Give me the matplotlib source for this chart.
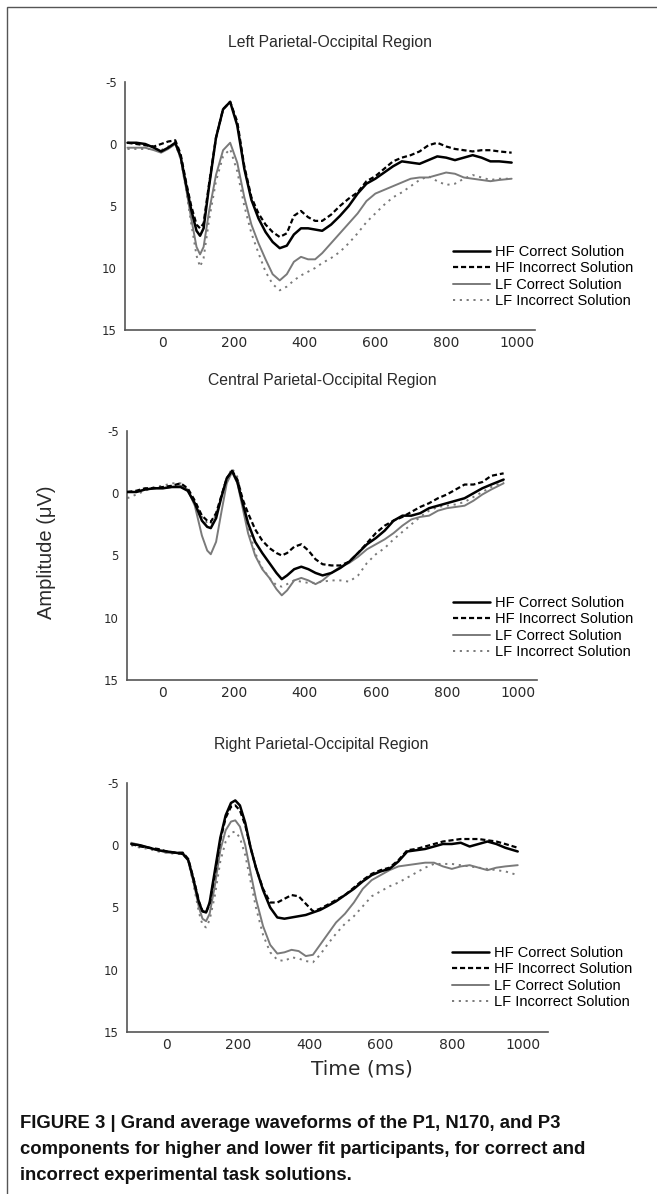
import matplotlib
matplotlib.use("Agg")
import matplotlib.pyplot as plt
from matplotlib.patches import Rectangle

# ---------------- data (amplitude in microvolts, negative up) ----------------
series_labels = ["HF Correct Solution", "HF Incorrect Solution",
                 "LF Correct Solution", "LF Incorrect Solution"]
panel_titles = ["Left Parietal-Occipital Region",
                "Central Parietal-Occipital Region",
                "Right Parietal-Occipital Region"]
x_ticks = [0, 200, 400, 600, 800, 1000]
y_ticks = [-5, 0, 5, 10, 15]

# Left panel
t_left = [-100, -75, -50, -25, -5, 15, 35, 50, 65, 80, 95, 105, 115, 130, 150, 170,
          190, 210, 230, 250, 270, 290, 310, 330, 350, 370, 390, 410, 430, 450, 475,
          500, 525, 550, 575, 600, 625, 650, 675, 700, 725, 750, 775, 800, 825, 850,
          875, 900, 925, 950, 985]
left_hf_correct = [-0.1, -0.1, 0.0, 0.3, 0.6, 0.3, -0.1, 1.0, 3.2, 5.3, 7.0, 7.4, 6.8, 3.5, -0.5, -2.8,
                   -3.4, -1.5, 2.0, 4.5, 6.0, 7.1, 7.9, 8.4, 8.2, 7.3, 6.8, 6.8, 6.9, 7.0, 6.5,
                   5.8, 5.0, 4.0, 3.2, 2.8, 2.3, 1.8, 1.4, 1.5, 1.6, 1.3, 1.0, 1.1, 1.3, 1.1,
                   0.9, 1.1, 1.4, 1.4, 1.5]
left_hf_incorrect = [-0.1, 0.0, 0.1, 0.2, 0.0, -0.2, -0.3, 0.8, 3.0, 5.0, 6.5, 6.8, 6.4, 3.3, -0.5, -2.8,
                     -3.4, -1.8, 1.8, 4.3, 5.6, 6.5, 7.1, 7.5, 7.2, 5.8, 5.4, 5.9, 6.2, 6.2, 5.7,
                     5.0, 4.4, 3.9, 3.0, 2.6, 2.0, 1.4, 1.1, 0.9, 0.6, 0.1, -0.1, 0.2, 0.4, 0.5,
                     0.6, 0.5, 0.5, 0.6, 0.7]
left_lf_correct = [0.3, 0.3, 0.3, 0.5, 0.7, 0.4, 0.0, 1.1, 3.5, 6.0, 8.3, 8.9, 8.3, 5.5, 2.5, 0.5,
                   -0.1, 1.5, 4.3, 6.5, 8.0, 9.3, 10.5, 11.0, 10.5, 9.5, 9.1, 9.3, 9.3, 8.8, 8.0,
                   7.2, 6.4, 5.6, 4.6, 4.0, 3.7, 3.4, 3.1, 2.8, 2.7, 2.7, 2.5, 2.3, 2.4, 2.7,
                   2.8, 2.9, 3.0, 2.9, 2.8]
left_lf_incorrect = [0.4, 0.4, 0.4, 0.4, 0.5, 0.2, 0.0, 1.2, 3.6, 6.4, 9.0, 9.9, 9.2, 6.2, 3.0, 1.0,
                     0.4, 2.2, 5.0, 7.2, 8.8, 10.3, 11.3, 11.8, 11.5, 11.0, 10.6, 10.3, 10.0, 9.6, 9.2,
                     8.7, 8.0, 7.2, 6.3, 5.6, 4.9, 4.3, 3.9, 3.4, 2.9, 2.6, 3.0, 3.3, 3.2, 2.8,
                     2.5, 2.7, 2.9, 2.8, 2.8]

# Central panel
t_central = [-100, -75, -50, -25, 0, 25, 50, 70, 90, 110, 125, 135, 150, 165, 180, 195,
             210, 225, 240, 260, 280, 300, 320, 335, 350, 370, 390, 410, 430, 450, 475,
             500, 525, 550, 575, 600, 625, 650, 675, 700, 725, 750, 775, 800, 825, 850,
             875, 900, 925, 960]
central_hf_correct = [-0.1, -0.1, -0.3, -0.4, -0.4, -0.5, -0.5, -0.2, 0.8, 2.2, 2.7, 2.8, 2.0, 0.3, -1.2, -1.8,
                      -0.9, 0.8, 2.4, 3.9, 4.8, 5.6, 6.4, 6.9, 6.6, 6.1, 5.9, 6.1, 6.4, 6.6, 6.4,
                      6.0, 5.5, 4.8, 4.1, 3.6, 3.0, 2.2, 1.8, 1.8, 1.6, 1.2, 1.0, 0.8, 0.6, 0.4,
                      0.0, -0.4, -0.7, -1.1]
central_hf_incorrect = [-0.1, -0.2, -0.4, -0.4, -0.5, -0.6, -0.8, -0.4, 0.6, 1.8, 2.2, 2.3, 1.6, 0.2, -1.2, -1.8,
                        -1.1, 0.5, 1.6, 2.9, 3.8, 4.4, 4.8, 5.0, 4.8, 4.3, 4.1, 4.6, 5.3, 5.7, 5.8,
                        5.8, 5.5, 4.8, 4.0, 3.2, 2.6, 2.2, 1.9, 1.5, 1.1, 0.8, 0.4, 0.1, -0.3, -0.7,
                        -0.7, -0.9, -1.4, -1.6]
central_lf_correct = [-0.1, -0.1, -0.3, -0.4, -0.4, -0.5, -0.6, -0.3, 1.0, 3.4, 4.6, 4.9, 3.9, 1.5, -0.8, -1.7,
                      -0.8, 1.2, 3.2, 5.0, 6.1, 6.8, 7.7, 8.2, 7.8, 7.0, 6.8, 7.0, 7.3, 7.0, 6.4,
                      5.9, 5.6, 5.1, 4.5, 4.1, 3.7, 3.2, 2.6, 2.1, 1.9, 1.8, 1.4, 1.2, 1.1, 1.0,
                      0.6, 0.1, -0.3, -0.8]
central_lf_incorrect = [0.4, 0.1, -0.2, -0.5, -0.6, -0.8, -0.8, -0.3, 0.6, 1.9, 2.4, 2.5, 1.7, 0.2, -1.2, -2.0,
                        -1.3, 0.5, 2.6, 4.8, 6.0, 6.8, 7.4, 7.5, 7.3, 7.0, 7.1, 7.2, 7.2, 7.1, 7.0,
                        7.0, 7.1, 6.6, 5.6, 4.9, 4.4, 3.7, 3.1, 2.5, 1.9, 1.4, 1.1, 1.0, 0.9, 0.7,
                        0.3, -0.1, -0.5, -0.9]

# Right panel
t_right = [-100, -75, -50, -25, 0, 25, 45, 60, 75, 90, 100, 110, 120, 135, 150, 165,
           180, 192, 205, 220, 235, 250, 270, 290, 310, 330, 350, 370, 390, 410, 430,
           450, 475, 500, 525, 550, 575, 600, 625, 650, 675, 700, 725, 750, 775, 800,
           825, 850, 875, 900, 925, 950, 985]
right_hf_correct = [-0.1, 0.0, 0.2, 0.4, 0.5, 0.6, 0.7, 1.2, 2.8, 4.6, 5.3, 5.4, 4.6, 2.0, -0.6, -2.4,
                    -3.4, -3.6, -3.2, -1.8, 0.2, 1.8, 3.6, 5.0, 5.8, 5.9, 5.8, 5.7, 5.6, 5.4, 5.2,
                    4.9, 4.5, 4.0, 3.5, 2.9, 2.4, 2.1, 1.9, 1.3, 0.5, 0.4, 0.3, 0.1, -0.1, -0.1,
                    -0.2, 0.1, -0.1, -0.3, -0.1, 0.2, 0.5]
right_hf_incorrect = [-0.1, 0.1, 0.2, 0.3, 0.5, 0.6, 0.6, 1.1, 2.7, 4.5, 5.3, 5.4, 4.7, 2.3, -0.4, -2.2,
                      -3.1, -3.2, -2.8, -1.6, 0.2, 1.8, 3.5, 4.6, 4.6, 4.3, 4.0, 4.1, 4.7, 5.3, 5.1,
                      4.8, 4.4, 4.0, 3.4, 2.8, 2.3, 2.0, 1.8, 1.2, 0.4, 0.3, 0.1, -0.1, -0.3, -0.4,
                      -0.5, -0.5, -0.5, -0.4, -0.3, -0.1, 0.2]
right_lf_correct = [-0.2, 0.0, 0.2, 0.4, 0.6, 0.6, 0.6, 1.2, 3.0, 5.0, 5.9, 6.1, 5.5, 3.2, 0.4, -1.2,
                    -1.9, -2.0, -1.5, 0.0, 2.2, 4.3, 6.5, 8.0, 8.7, 8.6, 8.4, 8.5, 8.9, 8.8, 8.0,
                    7.2, 6.2, 5.5, 4.6, 3.5, 2.8, 2.4, 2.0, 1.7, 1.6, 1.5, 1.4, 1.4, 1.7, 1.9,
                    1.7, 1.6, 1.8, 2.0, 1.8, 1.7, 1.6]
right_lf_incorrect = [0.0, 0.2, 0.3, 0.5, 0.6, 0.7, 0.7, 1.3, 3.2, 5.4, 6.4, 6.6, 6.0, 4.0, 1.3, -0.3,
                      -1.0, -1.1, -0.6, 0.8, 2.9, 5.0, 7.2, 8.6, 9.2, 9.3, 9.0, 9.1, 9.3, 9.4, 8.8,
                      8.0, 7.1, 6.3, 5.7, 4.9, 4.1, 3.7, 3.3, 3.0, 2.6, 2.2, 1.8, 1.5, 1.5, 1.5,
                      1.6, 1.7, 1.8, 1.9, 2.0, 2.1, 2.4]

# ---------------- layout ----------------
W, H = 657, 1194
fig = plt.figure(figsize=(W / 100, H / 100), dpi=100)
fig.patch.set_facecolor("white")


def fx(px):
    return px / W


def fy(py):
    return 1 - py / H


styles = [
    dict(color="black", lw=1.8, ls="-", zorder=5),
    dict(color="black", lw=1.6, ls=(0, (2.3, 1.3)), zorder=4),
    dict(color="#7a7a7a", lw=1.4, ls="-", zorder=3),
    dict(color="#7a7a7a", lw=1.4, ls=(0, (1.1, 2.4)), zorder=2),
]

panels = [
    dict(t=t_left, ys=[left_hf_correct, left_hf_incorrect, left_lf_correct, left_lf_incorrect],
         box=(125, 535, 82, 330), xlim=(-107, 1051), title_xy=(330, 42), leg_xy=(453, 245)),
    dict(t=t_central, ys=[central_hf_correct, central_hf_incorrect, central_lf_correct, central_lf_incorrect],
         box=(127, 537, 431, 680), xlim=(-101, 1054), title_xy=(322, 380), leg_xy=(453, 596)),
    dict(t=t_right, ys=[right_hf_correct, right_hf_incorrect, right_lf_correct, right_lf_incorrect],
         box=(127, 548, 783, 1032), xlim=(-112, 1070), title_xy=(321, 745), leg_xy=(452, 946)),
]

text_color = "#2a2a2a"
spine_color = "#555555"

for i, p in enumerate(panels):
    l, r, t, b = p["box"]
    ax = fig.add_axes([fx(l), fy(b), (r - l) / W, (b - t) / H])
    handles = []
    for y, st in zip(p["ys"], styles):
        ln, = ax.plot(p["t"], y, color=st["color"], lw=st["lw"], ls=st["ls"],
                      zorder=st["zorder"], solid_capstyle="round")
        handles.append(ln)
    ax.set_xlim(*p["xlim"])
    ax.set_ylim(15, -5)
    ax.set_xticks(x_ticks)
    ax.set_yticks(y_ticks)
    ax.set_xticklabels([str(v) for v in x_ticks], fontsize=10, family="DejaVu Sans", color=text_color)
    ax.set_yticklabels([str(v) for v in y_ticks], fontsize=8.5, family="DejaVu Sans", color=text_color)
    ax.tick_params(axis="both", length=0)
    ax.tick_params(axis="x", pad=4)
    ax.tick_params(axis="y", pad=6)
    for s in ["top", "right"]:
        ax.spines[s].set_visible(False)
    for s in ["left", "bottom"]:
        ax.spines[s].set_color(spine_color)
        ax.spines[s].set_linewidth(1.2)
    ax.patch.set_alpha(0)

    fig.text(fx(p["title_xy"][0]), fy(p["title_xy"][1]), panel_titles[i],
             ha="center", va="center", fontsize=11.3, family="Liberation Sans", color=text_color)

    ax.legend(handles, series_labels, loc="upper left",
              bbox_to_anchor=(fx(p["leg_xy"][0]), fy(p["leg_xy"][1])),
              bbox_transform=fig.transFigure, borderpad=0, borderaxespad=0,
              handlelength=2.55, handletextpad=0.3, labelspacing=0.17, frameon=False,
              prop=dict(family="Liberation Sans", size=10.5))

fig.text(fx(46), fy(552), "Amplitude (μV)", rotation=90, ha="center", va="center",
         fontsize=14.5, family="Liberation Sans", color=text_color)
fig.text(fx(362), fy(1069), "Time (ms)", ha="center", va="center",
         fontsize=14.5, family="DejaVu Sans", color=text_color)

caption = ["FIGURE 3 | Grand average waveforms of the P1, N170, and P3",
           "components for higher and lower fit participants, for correct and",
           "incorrect experimental task solutions."]
for k, line in enumerate(caption):
    fig.text(fx(20), fy(1123 + 26 * k), line, ha="left", va="center", fontsize=13.3,
             family="Liberation Sans", weight="bold", color="#111111")

fig.add_artist(Rectangle((fx(7), fy(1200)), (665 - 7) / W, (1200 - 7) / H,
                         transform=fig.transFigure, fill=False, edgecolor="#555555", lw=1.0))

fig.savefig("out.png", dpi=100)
